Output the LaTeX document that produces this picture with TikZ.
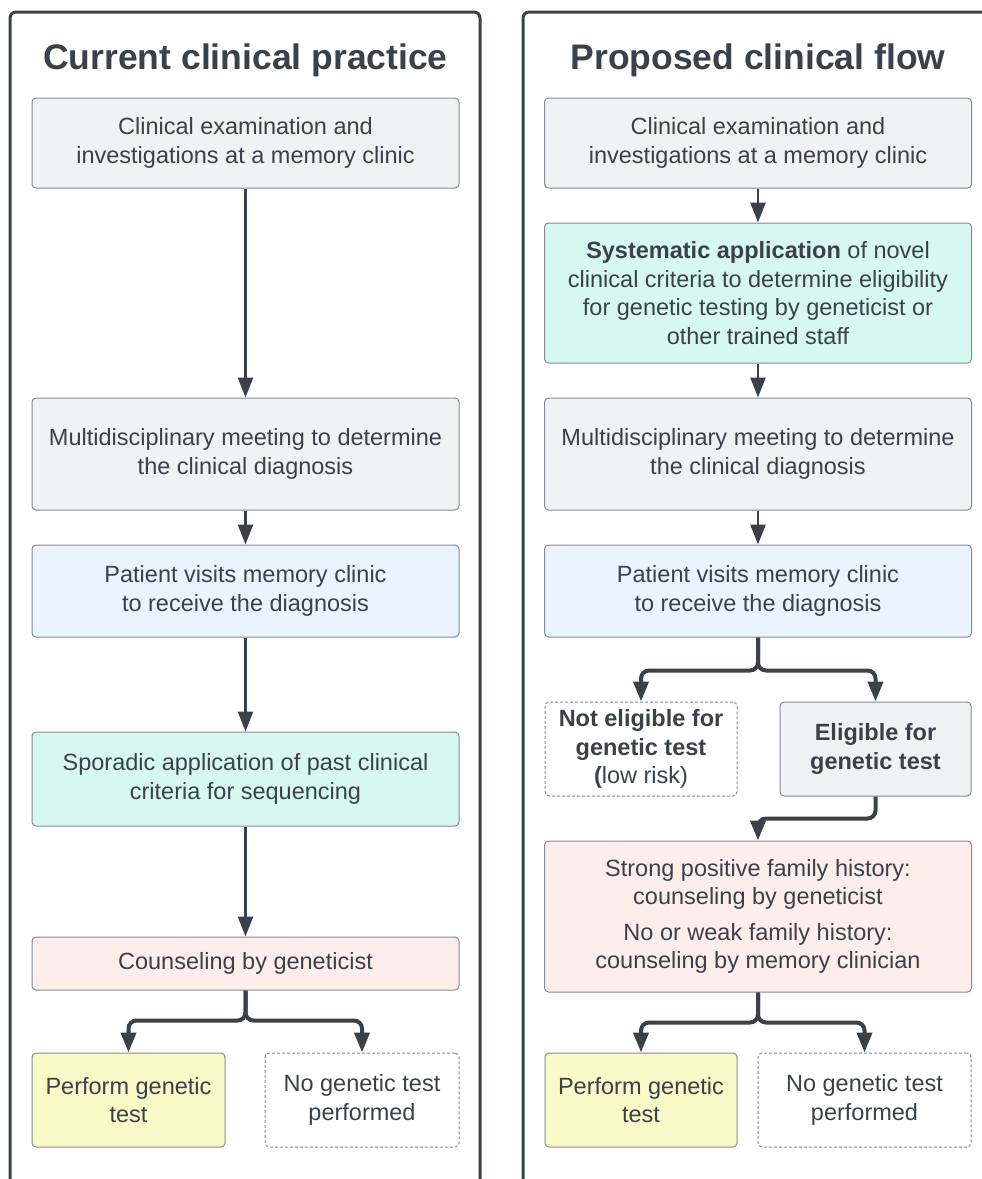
\documentclass[tikz,border=0pt]{standalone}
\usepackage{fontspec}
\setmainfont{Liberation Sans}
\usetikzlibrary{arrows.meta}

\definecolor{ink}{HTML}{3A414A}
\definecolor{edgegrey}{HTML}{858B93}
\definecolor{greybox}{HTML}{F1F2F4}
\definecolor{bluebox}{HTML}{EBF3FE}
\definecolor{mintbox}{HTML}{D6F8F1}
\definecolor{pinkbox}{HTML}{FDEEEC}
\definecolor{yellowbox}{HTML}{FAFAC8}

\begin{document}
\begin{tikzpicture}[x=1pt, y=-1pt,
  box/.style={draw=edgegrey, line width=1pt, rounded corners=4pt, text=ink,
    align=center, inner sep=0pt, minimum width=427pt,
    font=\fontsize{23.5}{28.5}\selectfont},
  smallbox/.style={box, minimum width=193pt, minimum height=94pt},
  dashbox/.style={draw=edgegrey, line width=1pt, dash pattern=on 3pt off 2pt, fill=white},
  panel/.style={draw=ink, line width=3pt, rounded corners=6pt},
  title/.style={text=ink, font=\fontsize{35.5}{40}\selectfont\bfseries},
  arrow/.style={draw=ink, line width=2.6pt, -{Triangle[length=20pt,width=15pt]}},
  fork/.style={arrow, line width=4pt, rounded corners=8pt}
]

  % Page size
  \useasboundingbox (0,0) rectangle (982,1179);
  \clip (0,0) rectangle (982,1179);

  % Parameters
  \def\lx{245.5}   % centre of left column
  \def\rx{758}     % centre of right column

  % Outer panels (run off the bottom / right edge)
  \draw[panel] (10,12) rectangle (480,1210);
  \draw[panel] (523,12) rectangle (1010,1210);

  % Titles
  \node[title] (lefttitle)  at (\lx,60) {Current clinical practice};
  \node[title] (righttitle) at (\rx,60) {Proposed clinical flow};

  %% Left column: current practice
  \node[box, fill=greybox, minimum height=90pt] (exam) at (\lx,143)
    {Clinical examination and\\investigations at a memory clinic};
  \node[box, fill=greybox, minimum height=112pt] (meeting) at (\lx,454)
    {Multidisciplinary meeting to determine\\the clinical diagnosis};
  \node[box, fill=bluebox, minimum height=92pt] (visit) at (\lx,591)
    {Patient visits memory clinic\\to receive the diagnosis};
  \node[box, fill=mintbox, minimum height=94pt] (sporadic) at (\lx,779)
    {Sporadic application of past clinical\\criteria for sequencing};
  \node[box, fill=pinkbox, minimum height=53pt] (counsel) at (\lx,963.5)
    {Counseling by geneticist};
  \node[smallbox, fill=yellowbox] (perform) at (128.5,1100)
    {Perform genetic\\test};
  \node[smallbox, dashbox, minimum width=194pt] (notest) at (362,1100)
    {No genetic test\\performed};

  \draw[arrow] (exam) -- (meeting);
  \draw[arrow] (meeting) -- (visit);
  \draw[arrow] (visit) -- (sporadic);
  \draw[arrow] (sporadic) -- (counsel);
  \draw[fork] (counsel.south) -- ++(0,30) -| (perform.north);
  \draw[fork] (counsel.south) -- ++(0,30) -| (notest.north);

  %% Right column: proposed flow
  \node[box, fill=greybox, minimum height=90pt] (pexam) at (\rx,143)
    {Clinical examination and\\investigations at a memory clinic};
  \node[box, fill=mintbox, minimum height=140pt] (systematic) at (\rx,293)
    {\textbf{Systematic application} of novel\\clinical criteria to determine eligibility\\
     for genetic testing by geneticist or\\other trained staff};
  \node[box, fill=greybox, minimum height=112pt] (pmeeting) at (\rx,454)
    {Multidisciplinary meeting to determine\\the clinical diagnosis};
  \node[box, fill=bluebox, minimum height=92pt] (pvisit) at (\rx,591)
    {Patient visits memory clinic\\to receive the diagnosis};
  \node[smallbox, dashbox, minimum width=192pt] (noteligible) at (641,749)
    {\textbf{Not eligible for}\\\textbf{genetic test}\\\textbf{(}low risk)};
  \node[smallbox, fill=greybox, minimum width=191pt] (eligible) at (875.5,749)
    {\textbf{Eligible for}\\\textbf{genetic test}};
  \node[box, fill=pinkbox, minimum height=151pt] (pcounsel) at (\rx,916.5)
    {Strong positive family history:\\counseling by geneticist\\[7pt]
     No or weak family history:\\counseling by memory clinician};
  \node[smallbox, fill=yellowbox, minimum width=192pt] (pperform) at (641,1100)
    {Perform genetic\\test};
  \node[smallbox, dashbox, minimum width=213pt] (pnotest) at (864.5,1100)
    {No genetic test\\performed};

  \draw[arrow] (pexam) -- (systematic);
  \draw[arrow] (systematic) -- (pmeeting);
  \draw[arrow] (pmeeting) -- (pvisit);
  \draw[fork] (pvisit.south) -- ++(0,33) -| (noteligible.north);
  \draw[fork] (pvisit.south) -- ++(0,33) -| (eligible.north);
  \draw[fork] (eligible.south) -- ++(0,22) -| (pcounsel.north);
  \draw[fork] (pcounsel.south) -- ++(0,30) -| (pperform.north);
  \draw[fork] (pcounsel.south) -- ++(0,30) -| (pnotest.north);

\end{tikzpicture}
\end{document}
